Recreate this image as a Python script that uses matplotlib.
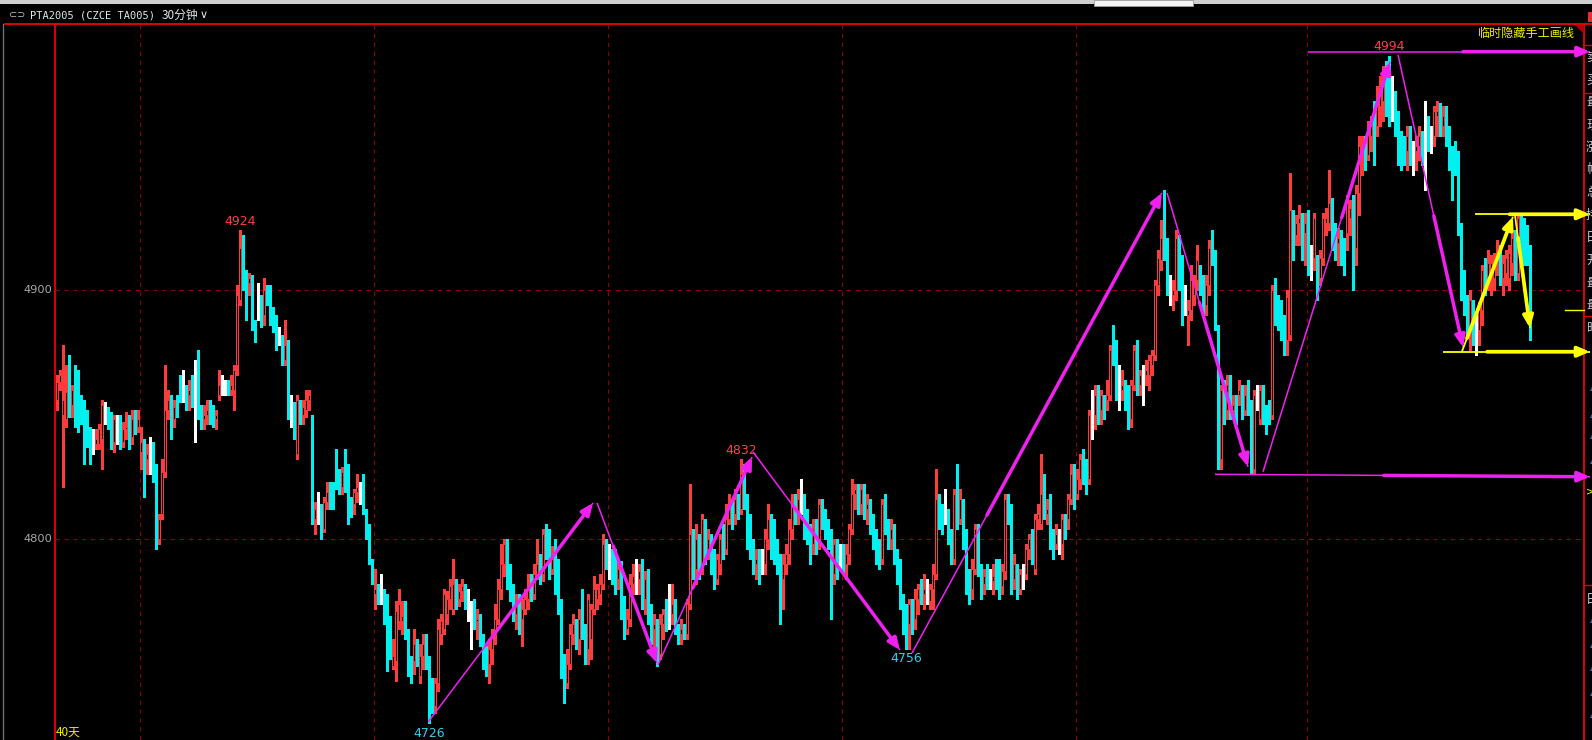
import matplotlib
matplotlib.use("Agg")
import matplotlib.pyplot as plt
import numpy as np
from matplotlib.lines import Line2D
from matplotlib.patches import Polygon, Rectangle

# 30-minute bars, PTA2005 (about 40 trading days)
opens = [
    4856, 4863, 4850, 4848, 4860, 4854, 4860, 4858, 4852, 4850,
    4850, 4841, 4838, 4838, 4838, 4840, 4852, 4852, 4850, 4839,
    4845, 4848, 4839, 4844, 4845, 4841, 4848, 4845, 4835, 4839,
    4832, 4834, 4836, 4827, 4800, 4810, 4827, 4852, 4856, 4848,
    4856, 4862, 4858, 4858, 4858, 4860, 4862, 4862, 4852, 4848,
    4850, 4852, 4850, 4848, 4858, 4862, 4862, 4862, 4860, 4860,
    4870, 4896, 4917, 4905, 4903, 4905, 4886, 4896, 4896, 4890,
    4900, 4898, 4890, 4888, 4881, 4881, 4872, 4878, 4852, 4853,
    4834, 4853, 4850, 4852, 4856, 4845, 4808, 4812, 4812, 4804,
    4815, 4819, 4819, 4827, 4825, 4821, 4827, 4823, 4815, 4814,
    4819, 4821, 4819, 4810, 4804, 4790, 4778, 4780, 4778, 4778,
    4776, 4767, 4749, 4751, 4767, 4767, 4771, 4762, 4751, 4751,
    4758, 4745, 4753, 4758, 4751, 4742, 4733, 4742, 4762, 4764,
    4770, 4776, 4772, 4782, 4776, 4779, 4780, 4774, 4770, 4772,
    4767, 4768, 4760, 4755, 4750, 4756, 4762, 4768, 4780, 4790,
    4798, 4786, 4779, 4770, 4774, 4768, 4772, 4776, 4781, 4778,
    4786, 4790, 4786, 4802, 4795, 4788, 4796, 4790, 4774, 4752,
    4742, 4750, 4762, 4766, 4760, 4768, 4760, 4756, 4760, 4772,
    4776, 4778, 4782, 4797, 4794, 4794, 4794, 4784, 4789, 4775,
    4764, 4768, 4782, 4786, 4784, 4787, 4776, 4786, 4770, 4764,
    4766, 4754, 4766, 4770, 4770, 4770, 4774, 4764, 4762, 4764,
    4762, 4774, 4802, 4788, 4800, 4790, 4806, 4796, 4800, 4794,
    4784, 4790, 4800, 4796, 4808, 4812, 4810, 4816, 4812, 4826,
    4815, 4808, 4796, 4790, 4792, 4790, 4790, 4800, 4808, 4804,
    4796, 4790, 4784, 4790, 4794, 4804, 4814, 4810, 4816, 4816,
    4808, 4800, 4798, 4804, 4798, 4814, 4808, 4806, 4802, 4786,
    4798, 4796, 4796, 4790, 4794, 4804, 4818, 4820, 4814, 4820,
    4812, 4814, 4808, 4800, 4797, 4792, 4814, 4806, 4800, 4804,
    4794, 4790, 4776, 4768, 4766, 4774, 4768,
    4776, 4780, 4778, 4780, 4775, 4780, 4786, 4816, 4812, 4810,
    4810, 4802, 4792, 4818, 4808, 4814, 4802, 4786, 4780, 4788,
    4804, 4786, 4782, 4785, 4784, 4783, 4786, 4790, 4781, 4787,
    4816, 4812, 4784, 4788, 4780, 4786, 4786, 4796, 4800, 4788,
    4808, 4806, 4820, 4810, 4816, 4802, 4798, 4800, 4798, 4808,
    4808, 4816, 4826, 4818, 4824, 4832, 4830, 4824, 4850, 4850,
    4858, 4852, 4856, 4856, 4858, 4880, 4878, 4860, 4860, 4862,
    4860, 4848, 4862, 4876, 4862, 4866, 4866, 4866, 4870, 4874,
    4902, 4912, 4921, 4919, 4900, 4898, 4900, 4917, 4913, 4898,
    4890, 4892, 4898, 4904, 4905, 4905, 4894, 4902, 4919, 4913,
    4884, 4832, 4860, 4852, 4860, 4852, 4854,
    4858, 4860, 4852, 4862, 4854, 4828, 4858, 4848, 4858, 4850,
    4854, 4850, 4900, 4896, 4894, 4888, 4880, 4882, 4929, 4922,
    4927, 4929, 4923, 4929, 4913, 4913, 4911, 4905, 4913, 4927,
    4927, 4935, 4925, 4919, 4921, 4919, 4923, 4929, 4935, 4917,
    4939, 4954, 4960, 4954, 4962, 4974, 4966, 4974, 4976, 4982,
    4978, 4976, 4976, 4969, 4960, 4958, 4956, 4962, 4956, 4956,
    4958, 4962, 4968, 4968, 4962, 4962, 4970, 4972, 4966, 4970,
    4964, 4954, 4954, 4954, 4925, 4905, 4896, 4885, 4893, 4886,
    4884, 4892, 4907, 4905, 4907, 4905, 4911, 4915, 4905, 4907,
    4905, 4911, 4921, 4907, 4929, 4921, 4923, 4915,
]
closes = [
    4863, 4866, 4856, 4859, 4854, 4860, 4856, 4853, 4850, 4848,
    4841, 4837, 4838, 4840, 4844, 4854, 4852, 4850, 4839, 4848,
    4845, 4839, 4844, 4845, 4839, 4848, 4845, 4848, 4839, 4831,
    4834, 4834, 4827, 4800, 4808, 4827, 4852, 4856, 4848, 4853,
    4852, 4858, 4858, 4856, 4860, 4856, 4862, 4850, 4848, 4850,
    4852, 4850, 4848, 4850, 4862, 4862, 4862, 4860, 4862, 4868,
    4898, 4917, 4904, 4900, 4905, 4886, 4881, 4896, 4888, 4900,
    4898, 4890, 4886, 4879, 4881, 4872, 4878, 4853, 4852, 4841,
    4856, 4850, 4853, 4856, 4858, 4808, 4812, 4812, 4804, 4815,
    4819, 4817, 4815, 4823, 4821, 4827, 4823, 4814, 4812, 4819,
    4821, 4821, 4812, 4804, 4792, 4784, 4780, 4778, 4778, 4771,
    4749, 4756, 4753, 4771, 4774, 4769, 4762, 4747, 4745, 4758,
    4753, 4753, 4758, 4751, 4741, 4735, 4742, 4764, 4767, 4778,
    4776, 4781, 4782, 4776, 4779, 4781, 4776, 4774, 4770, 4767,
    4768, 4760, 4752, 4750, 4756, 4762, 4768, 4780, 4790, 4798,
    4786, 4779, 4770, 4774, 4768, 4772, 4776, 4781, 4778, 4786,
    4790, 4786, 4802, 4795, 4788, 4792, 4790, 4774, 4752, 4742,
    4750, 4762, 4766, 4760, 4768, 4764, 4756, 4776, 4772, 4780,
    4780, 4782, 4798, 4795, 4794, 4788, 4780, 4788, 4772, 4764,
    4768, 4782, 4785, 4786, 4787, 4776, 4784, 4770, 4762, 4766,
    4756, 4766, 4770, 4766, 4770, 4774, 4766, 4762, 4764, 4762,
    4774, 4802, 4788, 4800, 4790, 4808, 4796, 4800, 4794, 4784,
    4792, 4800, 4796, 4808, 4812, 4810, 4816, 4812, 4826, 4815,
    4808, 4796, 4790, 4792, 4790, 4790, 4800, 4808, 4796, 4796,
    4790, 4784, 4790, 4794, 4804, 4814, 4810, 4816, 4816, 4808,
    4800, 4798, 4804, 4798, 4814, 4808, 4806, 4802, 4786, 4798,
    4788, 4796, 4790, 4794, 4804, 4818, 4820, 4814, 4820, 4812,
    4814, 4808, 4800, 4797, 4792, 4814, 4806, 4800, 4804, 4794,
    4790, 4776, 4768, 4766, 4774, 4768, 4776,
    4780, 4778, 4780, 4780, 4780, 4786, 4816, 4808, 4806, 4810,
    4802, 4794, 4818, 4808, 4816, 4802, 4786, 4781, 4788, 4804,
    4787, 4781, 4785, 4783, 4784, 4785, 4782, 4781, 4787, 4816,
    4812, 4784, 4790, 4780, 4786, 4786, 4796, 4800, 4794, 4808,
    4810, 4818, 4812, 4812, 4804, 4798, 4802, 4800, 4808, 4806,
    4816, 4826, 4818, 4824, 4832, 4828, 4822, 4850, 4850, 4858,
    4852, 4858, 4852, 4858, 4876, 4876, 4862, 4860, 4862, 4858,
    4848, 4862, 4876, 4862, 4866, 4866, 4868, 4872, 4874, 4902,
    4913, 4921, 4915, 4902, 4900, 4900, 4921, 4905, 4900, 4898,
    4892, 4904, 4902, 4912, 4902, 4894, 4902, 4917, 4913, 4886,
    4832, 4860, 4850, 4862, 4852, 4854, 4852,
    4860, 4852, 4858, 4854, 4830, 4858, 4858, 4860, 4850, 4848,
    4852, 4900, 4896, 4894, 4888, 4882, 4897, 4932, 4923, 4927,
    4929, 4923, 4927, 4913, 4913, 4929, 4905, 4913, 4929, 4929,
    4935, 4925, 4921, 4921, 4917, 4913, 4935, 4933, 4919, 4939,
    4958, 4958, 4956, 4966, 4966, 4958, 4974, 4982, 4984, 4978,
    4974, 4976, 4970, 4960, 4958, 4954, 4962, 4956, 4956, 4958,
    4962, 4958, 4968, 4962, 4962, 4972, 4972, 4966, 4970, 4964,
    4954, 4952, 4952, 4925, 4901, 4896, 4888, 4896, 4886, 4886,
    4892, 4908, 4903, 4911, 4911, 4911, 4915, 4907, 4911, 4913,
    4915, 4921, 4909, 4929, 4917, 4915, 4915, 4892,
]
highs = [
    4866, 4868, 4878, 4870, 4874, 4862, 4870, 4868, 4858, 4856,
    4852, 4845, 4844, 4844, 4846, 4856, 4855, 4853, 4851, 4850,
    4850, 4850, 4847, 4851, 4850, 4852, 4852, 4852, 4845, 4840,
    4838, 4841, 4839, 4830, 4810, 4832, 4870, 4860, 4858, 4856,
    4858, 4866, 4868, 4862, 4864, 4866, 4872, 4876, 4854, 4854,
    4856, 4856, 4854, 4852, 4868, 4866, 4864, 4864, 4866, 4870,
    4902, 4924, 4922, 4908, 4907, 4906, 4888, 4903, 4898, 4905,
    4902, 4902, 4893, 4890, 4885, 4882, 4888, 4880, 4858, 4855,
    4858, 4856, 4856, 4860, 4860, 4850, 4815, 4819, 4814, 4817,
    4823, 4823, 4823, 4836, 4828, 4829, 4836, 4830, 4817, 4820,
    4826, 4823, 4826, 4812, 4806, 4792, 4788, 4782, 4786, 4780,
    4778, 4769, 4760, 4775, 4780, 4775, 4775, 4764, 4753, 4764,
    4760, 4758, 4762, 4762, 4753, 4744, 4744, 4768, 4770, 4780,
    4779, 4784, 4792, 4784, 4782, 4784, 4782, 4780, 4775, 4776,
    4772, 4770, 4762, 4757, 4760, 4764, 4774, 4784, 4798, 4800,
    4800, 4790, 4782, 4778, 4778, 4776, 4780, 4786, 4786, 4790,
    4800, 4794, 4804, 4806, 4804, 4797, 4800, 4792, 4776, 4754,
    4756, 4766, 4770, 4768, 4772, 4780, 4766, 4778, 4774, 4785,
    4782, 4786, 4802, 4800, 4798, 4796, 4796, 4792, 4791, 4777,
    4772, 4786, 4790, 4792, 4790, 4792, 4787, 4788, 4774, 4770,
    4768, 4770, 4772, 4776, 4782, 4782, 4776, 4766, 4768, 4766,
    4776, 4822, 4804, 4806, 4802, 4810, 4808, 4804, 4802, 4796,
    4794, 4802, 4806, 4814, 4818, 4816, 4820, 4818, 4832, 4830,
    4818, 4810, 4800, 4796, 4796, 4796, 4804, 4814, 4810, 4808,
    4800, 4794, 4794, 4798, 4808, 4818, 4818, 4820, 4824, 4818,
    4812, 4806, 4808, 4808, 4816, 4816, 4812, 4808, 4804, 4800,
    4800, 4798, 4798, 4798, 4806, 4824, 4822, 4822, 4822, 4822,
    4818, 4816, 4810, 4804, 4800, 4816, 4818, 4808, 4808, 4806,
    4796, 4792, 4778, 4774, 4776, 4776, 4780,
    4782, 4784, 4786, 4784, 4782, 4790, 4828, 4818, 4814, 4820,
    4812, 4804, 4820, 4830, 4820, 4816, 4804, 4788, 4792, 4806,
    4806, 4790, 4788, 4790, 4788, 4790, 4792, 4792, 4790, 4818,
    4818, 4814, 4794, 4790, 4788, 4790, 4798, 4802, 4804, 4810,
    4814, 4834, 4826, 4816, 4818, 4804, 4806, 4804, 4810, 4810,
    4818, 4830, 4830, 4828, 4834, 4836, 4832, 4852, 4860, 4862,
    4862, 4860, 4858, 4864, 4878, 4886, 4880, 4870, 4868, 4864,
    4862, 4864, 4878, 4880, 4868, 4870, 4872, 4874, 4876, 4904,
    4916, 4928, 4940, 4921, 4906, 4904, 4924, 4922, 4914, 4902,
    4896, 4910, 4906, 4918, 4910, 4906, 4906, 4920, 4924, 4916,
    4886, 4862, 4864, 4866, 4866, 4858, 4858,
    4864, 4862, 4862, 4864, 4856, 4860, 4862, 4862, 4862, 4854,
    4856, 4902, 4905, 4898, 4896, 4890, 4900, 4947, 4932, 4930,
    4934, 4931, 4931, 4932, 4918, 4931, 4914, 4916, 4931, 4933,
    4948, 4937, 4927, 4925, 4924, 4921, 4938, 4936, 4938, 4942,
    4962, 4962, 4962, 4968, 4970, 4976, 4982, 4986, 4990, 4992,
    4994, 4986, 4980, 4972, 4964, 4962, 4966, 4966, 4960, 4962,
    4966, 4964, 4976, 4970, 4966, 4974, 4976, 4975, 4974, 4974,
    4966, 4958, 4960, 4956, 4927, 4908, 4898, 4900, 4896, 4890,
    4895, 4910, 4913, 4916, 4914, 4915, 4920, 4918, 4914, 4916,
    4918, 4924, 4924, 4931, 4930, 4929, 4926, 4918,
]
lows = [
    4852, 4860, 4821, 4845, 4849, 4849, 4845, 4843, 4846, 4830,
    4837, 4830, 4834, 4836, 4836, 4828, 4846, 4844, 4836, 4835,
    4838, 4836, 4837, 4840, 4836, 4838, 4842, 4843, 4828, 4817,
    4826, 4826, 4823, 4796, 4798, 4808, 4825, 4848, 4840, 4845,
    4849, 4855, 4855, 4852, 4852, 4853, 4839, 4848, 4844, 4844,
    4846, 4846, 4845, 4844, 4856, 4858, 4858, 4858, 4858, 4852,
    4866, 4894, 4900, 4888, 4898, 4884, 4879, 4888, 4885, 4886,
    4894, 4886, 4883, 4876, 4878, 4870, 4870, 4848, 4845, 4840,
    4832, 4846, 4846, 4849, 4852, 4806, 4802, 4806, 4800, 4803,
    4812, 4812, 4812, 4820, 4818, 4818, 4819, 4806, 4809, 4810,
    4815, 4814, 4810, 4800, 4790, 4782, 4772, 4774, 4774, 4766,
    4747, 4752, 4748, 4743, 4764, 4762, 4760, 4745, 4742, 4746,
    4749, 4742, 4748, 4748, 4726, 4730, 4730, 4739, 4758, 4762,
    4766, 4772, 4770, 4772, 4773, 4775, 4772, 4767, 4756, 4764,
    4760, 4757, 4748, 4745, 4742, 4750, 4758, 4766, 4776, 4785,
    4780, 4775, 4767, 4764, 4762, 4757, 4770, 4772, 4775, 4776,
    4784, 4782, 4783, 4792, 4784, 4786, 4778, 4770, 4744, 4734,
    4740, 4748, 4758, 4756, 4754, 4760, 4750, 4750, 4752, 4770,
    4772, 4774, 4780, 4788, 4784, 4782, 4778, 4780, 4768, 4760,
    4762, 4765, 4778, 4778, 4778, 4772, 4770, 4766, 4758, 4756,
    4749, 4752, 4760, 4763, 4764, 4766, 4762, 4758, 4758, 4760,
    4760, 4772, 4784, 4782, 4784, 4786, 4790, 4792, 4786, 4780,
    4782, 4786, 4792, 4794, 4806, 4804, 4806, 4808, 4810, 4812,
    4796, 4792, 4786, 4784, 4782, 4786, 4786, 4796, 4792, 4790,
    4786, 4766, 4772, 4786, 4790, 4800, 4806, 4806, 4810, 4800,
    4798, 4790, 4794, 4794, 4796, 4804, 4800, 4796, 4768, 4782,
    4784, 4788, 4786, 4784, 4790, 4802, 4812, 4810, 4810, 4808,
    4806, 4802, 4796, 4790, 4788, 4790, 4802, 4796, 4796, 4790,
    4782, 4772, 4762, 4756, 4756, 4762, 4764,
    4770, 4774, 4772, 4774, 4772, 4772, 4784, 4804, 4802, 4806,
    4798, 4790, 4790, 4804, 4806, 4796, 4778, 4774, 4776, 4786,
    4785, 4776, 4778, 4780, 4780, 4778, 4780, 4776, 4778, 4784,
    4806, 4778, 4780, 4776, 4778, 4780, 4784, 4792, 4790, 4786,
    4804, 4804, 4808, 4806, 4796, 4792, 4796, 4794, 4792, 4800,
    4804, 4814, 4812, 4816, 4820, 4822, 4818, 4822, 4840, 4844,
    4846, 4846, 4848, 4852, 4856, 4870, 4856, 4852, 4856, 4852,
    4844, 4845, 4860, 4858, 4858, 4854, 4862, 4860, 4866, 4872,
    4898, 4908, 4912, 4898, 4894, 4892, 4896, 4900, 4886, 4890,
    4878, 4888, 4894, 4900, 4898, 4890, 4890, 4898, 4910, 4884,
    4828, 4828, 4846, 4848, 4848, 4848, 4846,
    4854, 4848, 4850, 4850, 4826, 4826, 4852, 4846, 4846, 4842,
    4846, 4848, 4886, 4884, 4880, 4874, 4874, 4880, 4912, 4918,
    4918, 4912, 4910, 4906, 4904, 4908, 4896, 4902, 4910, 4922,
    4924, 4916, 4912, 4910, 4910, 4906, 4916, 4922, 4900, 4910,
    4930, 4946, 4948, 4952, 4956, 4950, 4962, 4966, 4968, 4970,
    4966, 4968, 4962, 4950, 4948, 4950, 4948, 4950, 4946, 4948,
    4952, 4950, 4940, 4956, 4955, 4958, 4962, 4962, 4962, 4958,
    4948, 4936, 4946, 4922, 4896, 4890, 4882, 4876, 4878, 4874,
    4878, 4886, 4898, 4900, 4898, 4900, 4906, 4902, 4898, 4902,
    4900, 4906, 4904, 4904, 4912, 4910, 4910, 4880,
]

price_levels = [4800, 4900]
session_breaks = [27.5, 105.5, 183.5, 261.5, 339.5, 416.5]
# bars whose extreme is printed on the chart
marked_bars = [(61, "high"), (228, "high"), (444, "high"), (124, "low"), (283, "low")]

# hand drawn pen lines: bar x0, price0, bar x1, price1, share of the line that is thin
magenta_pen = [
    (123.7, 4726.5, 178.7, 4814.5, 0.35),
    (180.0, 4814.5, 200.0, 4750.2, 0.27),
    (200.3, 4749.4, 231.7, 4833.0, 0.37),
    (232.0, 4835.0, 281.0, 4755.4, 0.27),
    (285.0, 4754.2, 368.3, 4939.0, 0.30),
    (370.0, 4939.0, 397.0, 4829.0, 0.40),
    (402.0, 4827.0, 444.3, 4991.6, 0.62),
    (447.0, 4994.4, 468.7, 4877.0, 0.55),
    (417.0, 4995.7, 511.0, 4995.7, 0.55),
    (386.0, 4826.0, 511.0, 4825.0, 0.45),
]
yellow_pen = [
    (472.7, 4930.4, 511.0, 4930.4, 0.30),
    (462.0, 4875.2, 511.0, 4875.2, 0.30),
    (468.3, 4875.2, 485.3, 4929.4, 0.10),
    (486.0, 4930.0, 491.0, 4884.7, 0.20),
]

side_panel = list("卖买最现涨幅总持日开最最昨")

W, H = 1592, 740
RED = "#ff3c3c"
CYAN = "#00f0f0"
FRAME = "#dc0000"
GRID = "#8c0000"
MAGENTA = "#f020f0"
YELLOW = "#ffff00"
CJK = ["Noto Sans CJK SC", "DejaVu Sans"]

plt.rcParams["font.family"] = ["DejaVu Sans", "Noto Sans CJK SC"]


def fx(px):
    return px / W


def fy(py):
    return 1 - py / H


fig = plt.figure(figsize=(W / 100, H / 100), dpi=100, facecolor="black")
ax = fig.add_axes([fx(55), 0, fx(1584) - fx(55), fy(24)])
ax.set_facecolor("black")
ax.set_xlim(-2 / 3, 509)
ax.set_ylim(4719.3, 5006.8)
ax.axis("off")

o = np.array(opens, float)
c = np.array(closes, float)
h = np.maximum(np.array(highs, float), np.maximum(o, c))
l = np.minimum(np.array(lows, float), np.minimum(o, c))
x = np.arange(len(c))
up = c > o
dn = c < o
dj = c == o

# grid and frame
for lv in price_levels:
    ax.axhline(lv, color=GRID, lw=0.8, ls=(0, (4, 4)), zorder=1)
for s in session_breaks:
    ax.axvline(s, color=GRID, lw=0.8, ls=(0, (4, 4)), zorder=1)
ax.axvline(-2 / 3, color=FRAME, lw=1.4, clip_on=False, zorder=1)
ax.axvline(509, color=FRAME, lw=1.4, clip_on=False, zorder=1)

# candles: crisp wicks and cyan bodies, thin hollow red bodies
wick_col = np.where(up, RED, np.where(dn, CYAN, "#ffffff"))
ax.vlines(x, l, h, colors=wick_col, lw=0.75, zorder=2, antialiased=False)
ax.bar(x[up], (c - o)[up], bottom=o[up], width=0.78, facecolor="black",
       edgecolor=RED, lw=0.7, zorder=3)
ax.bar(x[dn], (o - c)[dn], bottom=c[dn], width=0.85, color=CYAN, lw=0, zorder=3,
       antialiased=False)
ax.hlines(c[dj], x[dj] - 0.42, x[dj] + 0.42, colors="#ffffff", lw=0.75, zorder=3,
          antialiased=False)

# printed extremes
for i, kind in marked_bars:
    if kind == "high":
        ax.annotate(f"{h[i]:.0f}", (i, h[i]), xytext=(0, 6.5), textcoords="offset points",
                    ha="center", va="center", fontsize=9, color="#ff4040", zorder=7)
    else:
        ax.annotate(f"{l[i]:.0f}", (i, l[i]), xytext=(0, -7), textcoords="offset points",
                    ha="center", va="center", fontsize=9, color="#30d0f0", zorder=7,
                    annotation_clip=False)


def pen(x0, p0, x1, p1, f, color, thin, thick):
    ax.plot([x0, x1], [p0, p1], color=color, lw=thin, clip_on=False, zorder=5,
            solid_capstyle="butt")
    xm = x0 + (x1 - x0) * f
    pm = p0 + (p1 - p0) * f
    ax.annotate("", xy=(x1, p1), xytext=(xm, pm), annotation_clip=False, zorder=6,
                arrowprops=dict(arrowstyle="-|>,head_length=0.7,head_width=0.3",
                                color=color, lw=thick, shrinkA=0, shrinkB=0,
                                mutation_scale=10, clip_on=False))


for seg in magenta_pen:
    pen(*seg, MAGENTA, 1.1, 2.5)
for seg in yellow_pen:
    pen(*seg, YELLOW, 1.3, 2.7)

# last price tick on the right edge
ax.plot([502.7, 509], [c[-1], c[-1]], color=YELLOW, lw=1.0, clip_on=False, zorder=5)

# price labels on the left
for lv in price_levels:
    ax.annotate(f"{lv}", xy=(0, lv), xycoords=("axes fraction", "data"),
                xytext=(-1.8, 0), textcoords="offset points", ha="right", va="center",
                fontsize=8.2, color="#a8a8a8", annotation_clip=False)

# window chrome
fig.add_artist(Rectangle((0, fy(4)), 1, 4 / H, transform=fig.transFigure,
                         color="#cfcfcf", lw=0))
fig.add_artist(Rectangle((fx(1094), fy(6)), fx(99), 6 / H, transform=fig.transFigure,
                         facecolor="#f4f4f4", edgecolor="#9a9a9a", lw=0.6))
fig.add_artist(Line2D([fx(5), 1], [fy(24), fy(24)], color=FRAME, lw=1.4))
fig.add_artist(Line2D([fx(3), fx(3)], [fy(24), 0], color="#707070", lw=1.0))
fig.add_artist(Polygon([(fx(1574), fy(24)), (fx(1584), fy(24)), (fx(1584), fy(34))],
                       closed=True, transform=fig.transFigure, color="#b00000", lw=0))
fig.add_artist(Rectangle((fx(1588), fy(22)), fx(4), 10 / H, transform=fig.transFigure,
                         color="#e03030", lw=0))
for yy in [45, 93, 316, 585]:
    fig.add_artist(Line2D([fx(1584), 1], [fy(yy), fy(yy)], color=FRAME, lw=1.0))

fig.text(fx(9), fy(15), "⊂⊃", color="#bfbfbf", fontsize=7, va="center", ha="left")
fig.text(fx(30), fy(15), "PTA2005 (CZCE TA005)", color="#e6e6e6", fontsize=7.5,
         family=["DejaVu Sans Mono", "Noto Sans CJK SC"], va="center", ha="left")
fig.text(fx(162), fy(15), "30分钟", color="#e6e6e6", fontsize=8.5, family=CJK,
         va="center", ha="left")
fig.text(fx(200), fy(15), "∨", color="#e6e6e6", fontsize=8, va="center", ha="left")
fig.text(fx(1575), fy(33), "临时隐藏手工画线", color="#f0f000", fontsize=8.7, family=CJK,
         va="center", ha="right")
fig.text(fx(56), fy(732), "40天", color="#f0f000", fontsize=8.5, family=CJK,
         va="center", ha="left")

# right-hand quote panel, mostly hidden past the window edge
for k, ch in enumerate(side_panel):
    fig.text(fx(1586), fy(57 + 22.6 * k), ch, color="#c8c8c8", fontsize=9, family=CJK,
             va="center", ha="left")
fig.text(fx(1586), fy(600), "日", color="#c8c8c8", fontsize=9, family=CJK,
         va="center", ha="left")
for yy in [390, 417, 438, 463, 622, 647, 670, 695, 717]:
    fig.text(fx(1589.5), fy(yy), "4", color="#5a8ad0", fontsize=7, va="center", ha="left")
fig.text(fx(1586), fy(491), ">", color=YELLOW, fontsize=7, va="center", ha="left")

fig.savefig("out.png", dpi=100, facecolor="black")
